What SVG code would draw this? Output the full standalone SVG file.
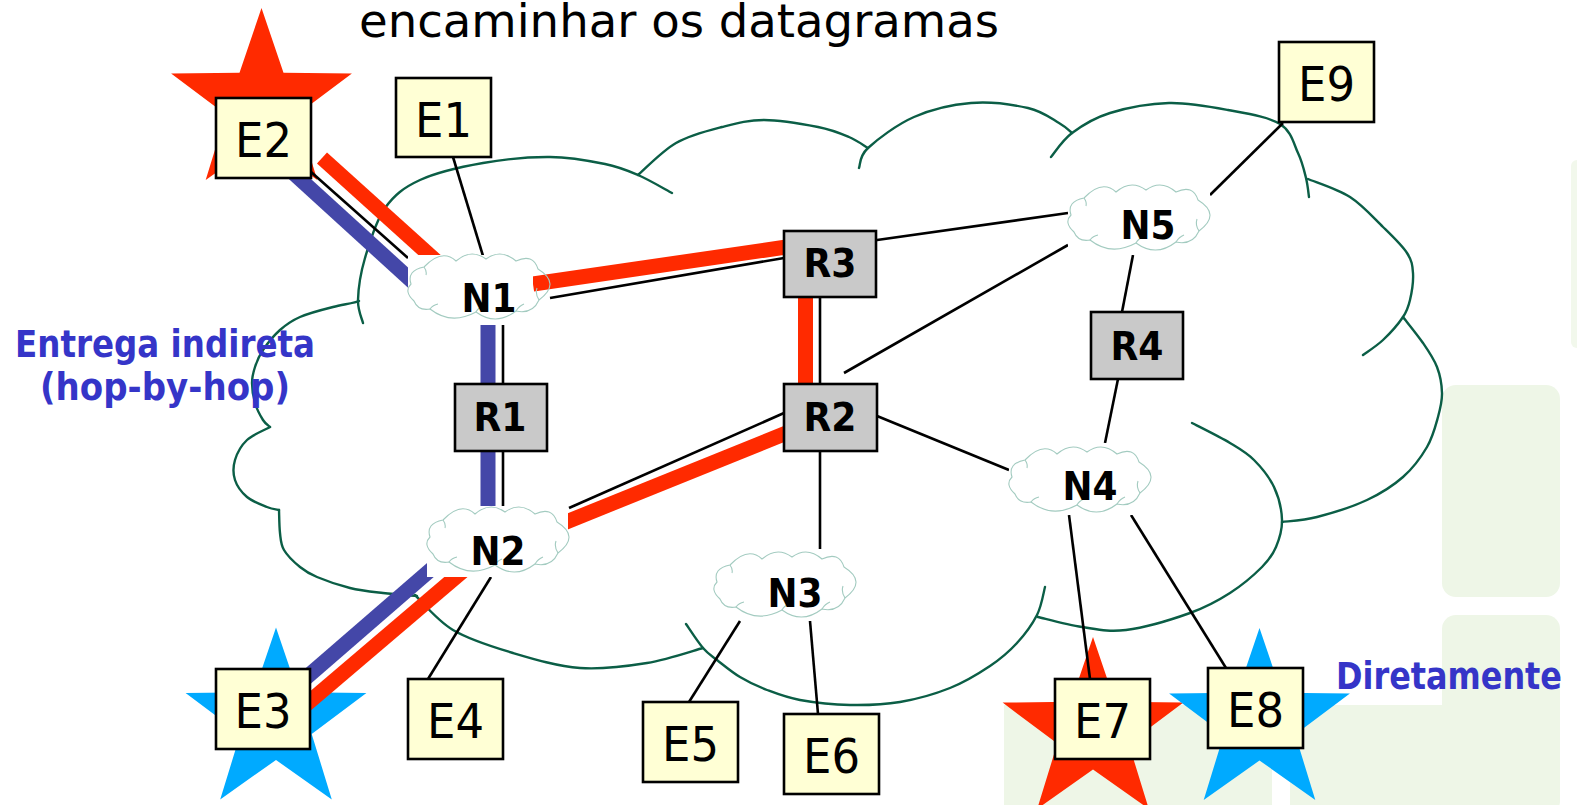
<svg xmlns="http://www.w3.org/2000/svg" width="1577" height="805" viewBox="0 0 1577 805">
<style>
  .bg{fill:#eef6e7}
  .cl{fill:none;stroke:#0b5e46;stroke-width:2.4;stroke-linecap:round}
  .ln{stroke:#000;stroke-width:2.6;fill:none}
  .red{stroke:#ff2a00;stroke-width:15;fill:none}
  .blue{stroke:#4447a8;stroke-width:15;fill:none}
  .eb{fill:#ffffd5;stroke:#000;stroke-width:2.6}
  .rb{fill:#c9c9c9;stroke:#000;stroke-width:2.6}
  .mask{fill:#fff}
  .nc{fill:none;stroke:#a3cbc0;stroke-width:1.1}
  .et{font-family:"DejaVu Sans",Verdana,sans-serif;font-size:48px;fill:#000;text-anchor:middle}
  .bt{font-family:"DejaVu Sans",Verdana,sans-serif;font-size:39px;font-weight:bold;fill:#000;text-anchor:middle}
  .lb{font-family:"DejaVu Sans",Verdana,sans-serif;font-size:37px;font-weight:bold;fill:#3535c8}
  .sr{fill:#ff2a00}
  .sb{fill:#00aaff}
</style>
<defs>
  <path id="star" d="M0,-95 L22,-30.3 L90.4,-29.4 L35.7,11.6 L55.8,76.9 L0,37.5 L-55.8,76.9 L-35.7,11.6 L-90.4,-29.4 L-22,-30.3 Z"/>
  <g id="ncloud">
    <path class="nc" d="M6,47 Q-4.5,37.5 3,30 Q-1.5,16.5 16,13 Q34,-6 48,7 Q63,-6 78,5 Q93,-6 108,7 Q125,-1 130,15 Q153.5,29.5 131,46 Q124.5,60.5 108,57 Q88,72.5 68,58 Q43,71.5 22,55 Q10,57 6,47 Z"/>
    <path class="nc" d="M131,46 Q127,40 129,34 M108,57 Q111,52 116,50 M68,58 Q70,54 75,52 M22,55 Q25,51 30,50 M16,13 Q19,17 18,21"/>
  </g>
</defs>

<!-- light background panels -->
<g id="background">
  <rect x="0" y="0" width="1577" height="805" fill="#fff"/>
  <rect class="bg" x="1442" y="385" width="118" height="212" rx="14"/>
  <rect class="bg" x="1442" y="615" width="118" height="200" rx="14"/>
  <rect class="bg" x="1004" y="705" width="268" height="110"/>
  <rect class="bg" x="1290" y="705" width="200" height="110"/>
  <rect x="1571" y="160" width="12" height="188" rx="6" fill="#f2f8ec"/>
</g>

<text x="359" y="37" font-family="DejaVu Sans, Verdana, sans-serif" font-size="47" fill="#000" textLength="640" lengthAdjust="spacingAndGlyphs">encaminhar os datagramas</text>

<!-- network cloud outline: one lobe per path -->
<g id="network-cloud">
  <path class="cl" d="M363,323 C362.2,319.2 357.7,310.8 358,300 C358.3,289.2 360.5,273.3 365,258 C369.5,242.7 375.8,221 385,208 C394.2,195 403.7,187.5 420,180 C436.3,172.5 461.3,166.8 483,163 C504.7,159.2 529.7,156.8 550,157 C570.3,157.2 590.3,161 605,164 C619.7,167 626.8,170.2 638,175 C649.2,179.8 666.3,190 672,193"/>
  <path class="cl" d="M638,175 C644.3,169.7 662,151 676,143 C690,135 707.3,130.8 722,127 C736.7,123.2 748,120 764,120 C780,120 803.8,124.2 818,127 C832.2,129.8 840.7,133.5 849,137 C857.3,140.5 864.8,146.2 868,148"/>
  <path class="cl" d="M859,168 C860.5,164.7 858.8,156.5 868,148 C877.2,139.5 896.8,124.5 914,117 C931.2,109.5 952,104.5 971,103 C990,101.5 1013.3,104.7 1028,108 C1042.7,111.3 1051.7,118.8 1059,123 C1066.3,127.2 1069.8,131.3 1072,133"/>
  <path class="cl" d="M1051,157 C1054.5,153 1062.2,140.3 1072,133 C1081.8,125.7 1093.8,118 1110,113 C1126.2,108 1149.3,103.5 1169,103 C1188.7,102.5 1209.5,106.5 1228,110 C1246.5,113.5 1268.3,116.8 1280,124 C1291.7,131.2 1293.7,144 1298,153 C1302.3,162 1304.2,170.7 1306,178 C1307.8,185.3 1308.5,193.8 1309,197"/>
  <path class="cl" d="M1308,179 C1315,182 1337.5,189 1350,197 C1362.5,205 1373.5,217.7 1383,227 C1392.5,236.3 1402,245.3 1407,253 C1412,260.7 1412.5,265.2 1413,273 C1413.5,280.8 1411.7,292.7 1410,300 C1408.3,307.3 1407.5,310.3 1403,317 C1398.5,323.7 1389.7,333.7 1383,340 C1376.3,346.3 1366.3,352.5 1363,355"/>
  <path class="cl" d="M1403,317 C1406.3,321.3 1417.3,334.7 1423,343 C1428.7,351.3 1433.8,358.7 1437,367 C1440.2,375.3 1441.8,384.7 1442,393 C1442.2,401.3 1440.5,408 1438,417 C1435.5,426 1432.8,437 1427,447 C1421.2,457 1413,468.2 1403,477 C1393,485.8 1381.3,493.3 1367,500 C1352.7,506.7 1331.2,513.3 1317,517 C1302.8,520.7 1287.8,521.2 1282,522"/>
  <path class="cl" d="M1192,423 C1198.3,426.3 1219.7,436.8 1230,443 C1240.3,449.2 1246.7,452.7 1254,460 C1261.3,467.3 1269.3,477 1274,487 C1278.7,497 1281.7,510 1282,520 C1282.3,530 1279.3,539.2 1276,547 C1272.7,554.8 1269.7,559.3 1262,567 C1254.3,574.7 1242,585.3 1230,593 C1218,600.7 1207.3,606.8 1190,613 C1172.7,619.2 1144,627.7 1126,630 C1108,632.3 1096.7,629.2 1082,627 C1067.3,624.8 1045.3,618.7 1038,617"/>
  <path class="cl" d="M1045,587 C1043.7,591.7 1041.7,605.7 1037,615 C1032.3,624.3 1024.8,634.5 1017,643 C1009.2,651.5 1001.2,658.5 990,666 C978.8,673.5 965,682 950,688 C935,694 916.7,699.2 900,702 C883.3,704.8 866.7,705.3 850,705 C833.3,704.7 813.8,702.5 800,700 C786.2,697.5 777,693.8 767,690 C757,686.2 748.3,682 740,677 C731.7,672 723.2,664.8 717,660 C710.8,655.2 708.2,654 703,648 C697.8,642 688.8,628 686,624"/>
  <path class="cl" d="M415,595 C421.3,600.8 436.7,620.3 453,630 C469.3,639.7 491.8,646.7 513,653 C534.2,659.3 557.7,666.3 580,668 C602.3,669.7 626.5,666.3 647,663 C667.5,659.7 693.7,650.5 703,648"/>
  <path class="cl" d="M279,510 C279.2,513.8 279.2,526.3 280,533 C280.8,539.7 280.7,544.3 284,550 C287.3,555.7 294.5,562.5 300,567 C305.5,571.5 308.7,573.5 317,577 C325.3,580.5 339,585.3 350,588 C361,590.7 371.8,591.7 383,593 C394.2,594.3 411.3,595.5 417,596"/>
  <path class="cl" d="M270,427 C266.2,429.2 252.8,434.5 247,440 C241.2,445.5 237,453.3 235,460 C233,466.7 233,473.8 235,480 C237,486.2 241.7,492.5 247,497 C252.3,501.5 261.7,504.8 267,507 C272.3,509.2 277,509.5 279,510"/>
  <path class="cl" d="M359,301 C355.5,302.8 343,304.5 333,307 C323,309.5 308.8,313.2 300,317 C291.2,320.8 286.2,324.5 280,330 C273.8,335.5 267.2,343.8 263,350 C258.8,356.2 256.8,361.5 255,367 C253.2,372.5 252,377 252,383 C252,389 253.2,396.8 255,403 C256.8,409.2 260.5,416 263,420 C265.5,424 268.8,425.8 270,427"/>
</g>

<!-- stars marking the end stations -->
<g id="highlights">
  <use href="#star" class="sr" transform="translate(261.5,103)"/>
  <use href="#star" class="sb" transform="translate(276,722.5)"/>
  <use href="#star" class="sr" transform="translate(1093,732)"/>
  <use href="#star" class="sb" transform="translate(1259.5,723)"/>
</g>

<g id="connectors">
  <line class="ln" x1="453" y1="157" x2="483" y2="256"/>
  <line class="ln" x1="306" y1="167.5" x2="408" y2="258"/>
  <line class="blue" x1="290" y1="170" x2="420" y2="288.5"/>
  <line class="red" stroke-width="14" x1="322" y1="158" x2="445" y2="269"/>
  <line class="ln" x1="550" y1="298" x2="790" y2="257"/>
  <line class="red" x1="533" y1="284" x2="800" y2="245"/>
  <line class="blue" stroke-width="16" x1="488" y1="320" x2="488" y2="512"/>
  <line class="ln" x1="503" y1="325" x2="503" y2="507"/>
  <line class="red" x1="805.5" y1="290" x2="805.5" y2="390"/>
  <line class="ln" x1="820" y1="297" x2="820" y2="384"/>
  <line class="ln" x1="870" y1="241" x2="1068" y2="213"/>
  <line class="ln" x1="784" y1="413" x2="569" y2="508"/>
  <line class="red" x1="800" y1="427.5" x2="560" y2="524.5"/>
  <line class="ln" x1="820" y1="451" x2="820" y2="549"/>
  <line class="ln" x1="844" y1="373" x2="1068" y2="245"/>
  <line class="ln" x1="877" y1="416" x2="1009" y2="470"/>
  <line class="ln" x1="1210" y1="195" x2="1283" y2="123"/>
  <line class="ln" x1="1133" y1="255" x2="1122" y2="312"/>
  <line class="ln" x1="1118" y1="379" x2="1105" y2="443"/>
  <line class="ln" x1="1069" y1="515" x2="1090" y2="679"/>
  <line class="ln" x1="1131" y1="515" x2="1226" y2="668"/>
  <line class="ln" x1="740" y1="621" x2="689" y2="702"/>
  <line class="ln" x1="810" y1="621" x2="818" y2="714"/>
  <line class="ln" x1="491" y1="577" x2="428" y2="679"/>
  <line class="blue" x1="447" y1="555.7" x2="300" y2="683"/>
  <line class="red" x1="470" y1="565" x2="300" y2="709.7"/>
</g>

<!-- sub-networks -->
<g id="N1"><rect class="mask" x="408" y="255" width="125" height="70"/><use href="#ncloud" x="408" y="254"/><text class="bt" x="489" y="312" textLength="55" lengthAdjust="spacingAndGlyphs">N1</text></g>
<g id="N2"><rect class="mask" x="427" y="506" width="141" height="71"/><use href="#ncloud" x="427" y="507"/><text class="bt" x="498" y="565" textLength="55" lengthAdjust="spacingAndGlyphs">N2</text></g>
<g id="N3"><rect class="mask" x="714" y="549" width="142" height="71"/><use href="#ncloud" x="714" y="552"/><text class="bt" x="795" y="607" textLength="55" lengthAdjust="spacingAndGlyphs">N3</text></g>
<g id="N4"><rect class="mask" x="1009" y="443" width="142" height="72"/><use href="#ncloud" x="1009" y="447"/><text class="bt" x="1090" y="500" textLength="55" lengthAdjust="spacingAndGlyphs">N4</text></g>
<g id="N5"><rect class="mask" x="1068" y="183" width="142" height="72"/><use href="#ncloud" x="1068" y="185"/><text class="bt" x="1148" y="239" textLength="55" lengthAdjust="spacingAndGlyphs">N5</text></g>

<!-- routers -->
<g id="R1"><rect class="rb" x="455" y="384" width="92" height="67"/><text class="bt" x="500" y="431" textLength="53" lengthAdjust="spacingAndGlyphs">R1</text></g>
<g id="R2"><rect class="rb" x="784" y="384" width="93" height="67"/><text class="bt" x="830" y="431" textLength="53" lengthAdjust="spacingAndGlyphs">R2</text></g>
<g id="R3"><rect class="rb" x="784" y="231" width="92" height="66"/><text class="bt" x="830" y="277" textLength="53" lengthAdjust="spacingAndGlyphs">R3</text></g>
<g id="R4"><rect class="rb" x="1091" y="312" width="92" height="67"/><text class="bt" x="1137" y="360" textLength="53" lengthAdjust="spacingAndGlyphs">R4</text></g>

<!-- end stations -->
<g id="E1"><rect class="eb" x="396" y="78" width="95" height="79"/><text class="et" x="443.5" y="137" textLength="57" lengthAdjust="spacingAndGlyphs">E1</text></g>
<g id="E2"><rect class="eb" x="216" y="98" width="95" height="80"/><text class="et" x="263.5" y="157" textLength="57" lengthAdjust="spacingAndGlyphs">E2</text></g>
<g id="E3"><rect class="eb" x="216" y="669" width="94" height="80"/><text class="et" x="263" y="728" textLength="57" lengthAdjust="spacingAndGlyphs">E3</text></g>
<g id="E4"><rect class="eb" x="408" y="679" width="95" height="80"/><text class="et" x="455.5" y="738" textLength="57" lengthAdjust="spacingAndGlyphs">E4</text></g>
<g id="E5"><rect class="eb" x="643" y="702" width="95" height="80"/><text class="et" x="690.5" y="761" textLength="57" lengthAdjust="spacingAndGlyphs">E5</text></g>
<g id="E6"><rect class="eb" x="784" y="714" width="95" height="80"/><text class="et" x="831.5" y="773" textLength="57" lengthAdjust="spacingAndGlyphs">E6</text></g>
<g id="E7"><rect class="eb" x="1055" y="679" width="95" height="80"/><text class="et" x="1102.5" y="738" textLength="57" lengthAdjust="spacingAndGlyphs">E7</text></g>
<g id="E8"><rect class="eb" x="1208" y="668" width="95" height="80"/><text class="et" x="1255.5" y="727" textLength="57" lengthAdjust="spacingAndGlyphs">E8</text></g>
<g id="E9"><rect class="eb" x="1279" y="42" width="95" height="80"/><text class="et" x="1326.5" y="101" textLength="57" lengthAdjust="spacingAndGlyphs">E9</text></g>

<!-- delivery labels -->
<g id="labels">
  <text class="lb" x="15" y="357" textLength="300" lengthAdjust="spacingAndGlyphs">Entrega indireta</text>
  <text class="lb" x="40" y="400" textLength="250" lengthAdjust="spacingAndGlyphs">(hop-by-hop)</text>
  <text class="lb" x="1336" y="689" textLength="226" lengthAdjust="spacingAndGlyphs">Diretamente</text>
</g>
</svg>
